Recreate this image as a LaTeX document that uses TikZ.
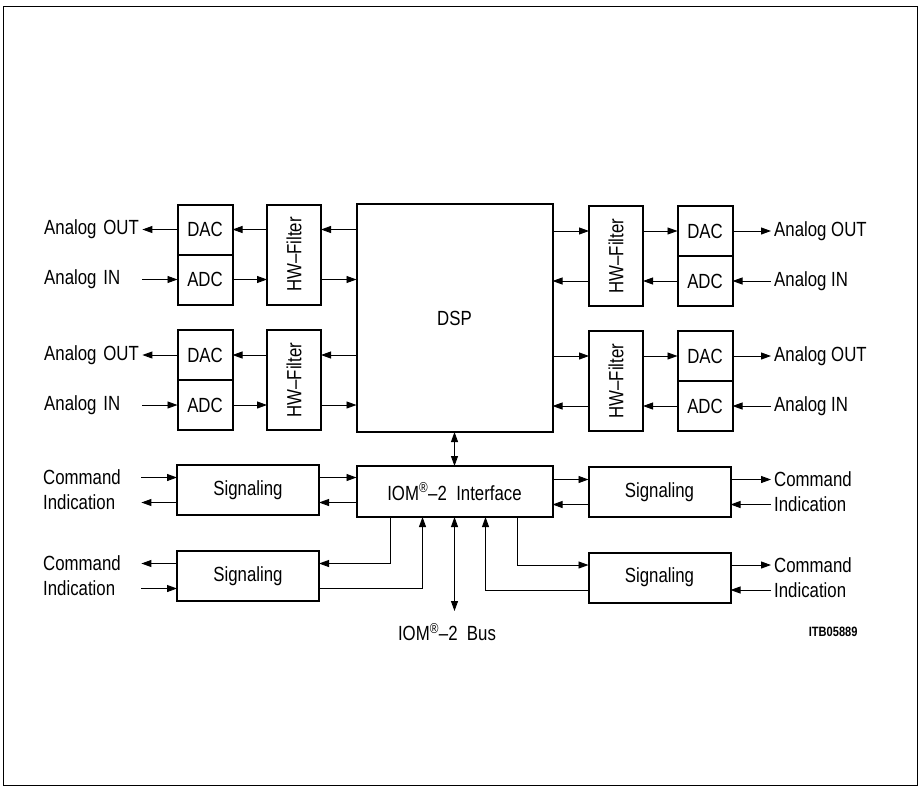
\documentclass[tikz,border=0pt]{standalone}
\usepackage{fontspec}
\usepackage{graphicx}
\setmainfont{Liberation Sans}[FakeStretch=0.82]
\usetikzlibrary{arrows.meta,positioning}

\begin{document}
\begin{tikzpicture}[
  x=1pt, y=-1pt,
  font=\fontsize{20.5}{23}\selectfont,
  blk/.style={rectangle, draw, line width=2pt, inner sep=0pt, outer sep=0pt},
  conv/.style={blk, minimum width=55pt, minimum height=50pt},
  filt/.style={blk, minimum width=54pt, minimum height=100pt},
  sig/.style={blk, minimum width=142pt, minimum height=50pt},
  arr/.style={-{Triangle[length=10pt,width=7pt]}, line width=0.9pt},
  darr/.style={{Triangle[length=10pt,width=7pt]}-{Triangle[length=10pt,width=7pt]}, line width=0.9pt},
  lbll/.style={text width=96pt, align=left, inner sep=2pt, anchor=west},
  lblr/.style={align=left, inner sep=3pt, anchor=west}
]
\useasboundingbox (0,0) rectangle (920,788);
\draw[line width=1pt] (3,6) rectangle (917,785);

%% Core blocks
\node[blk, minimum width=196pt, minimum height=228pt] (dsp) at (454.5,318) {DSP};
\node[blk, minimum width=196pt, minimum height=51pt] (iom) at (454.5,491.5)
  {IOM\textsuperscript{\textregistered}--2 \ Interface};

%% Left converters and filters
\node[conv] (dacL1) at (205,229.5) {DAC};
\node[conv, below=0pt of dacL1] (adcL1) {ADC};
\node[conv] (dacL2) at (205,355) {DAC};
\node[conv, below=0pt of dacL2] (adcL2) {ADC};
\node[filt] (filL1) at (294,254.5) {\rotatebox{90}{HW--Filter}};
\node[filt] (filL2) at (294,380) {\rotatebox{90}{HW--Filter}};

%% Right converters and filters
\node[conv] (dacR1) at (705,231) {DAC};
\node[conv, below=0pt of dacR1] (adcR1) {ADC};
\node[conv] (dacR2) at (705,356) {DAC};
\node[conv, below=0pt of dacR2] (adcR2) {ADC};
\node[filt] (filR1) at (616,256) {\rotatebox{90}{HW--Filter}};
\node[filt] (filR2) at (616,381) {\rotatebox{90}{HW--Filter}};

%% Signaling blocks
\node[sig] (sigL1) at (248,490) {Signaling};
\node[sig] (sigL2) at (248,576) {Signaling};
\node[sig] (sigR1) at (659.5,492) {Signaling};
\node[sig] (sigR2) at (659.5,577.5) {Signaling};

%% Analog labels
\node[lbll] (outL1) at (42,229.5) {Analog OUT};
\node[lbll] (inL1)  at (42,279.5) {Analog IN};
\node[lbll] (outL2) at (42,355)   {Analog OUT};
\node[lbll] (inL2)  at (42,405)   {Analog IN};
\node[lblr] (outR1) at (771,231)  {Analog OUT};
\node[lblr] (inR1)  at (771,281)  {Analog IN};
\node[lblr] (outR2) at (771,356)  {Analog OUT};
\node[lblr] (inR2)  at (771,406)  {Analog IN};

%% Command / Indication labels
\node[lbll] (cmdL1) at (41,477.5) {Command};
\node[lbll] (indL1) at (41,502.5) {Indication};
\node[lbll] (cmdL2) at (41,563.5) {Command};
\node[lbll] (indL2) at (41,588.5) {Indication};
\node[lblr] (cmdR1) at (771,479.5) {Command};
\node[lblr] (indR1) at (771,504.5) {Indication};
\node[lblr] (cmdR2) at (771,565)   {Command};
\node[lblr] (indR2) at (771,590)   {Indication};

%% Left analog paths
\draw[arr] (dsp.west |- dacL1) -- (filL1.east |- dacL1);
\draw[arr] (filL1.west |- dacL1) -- (dacL1);
\draw[arr] (dacL1) -- (outL1);
\draw[arr] (inL1) -- (adcL1);
\draw[arr] (adcL1) -- (filL1.west |- adcL1);
\draw[arr] (filL1.east |- adcL1) -- (dsp.west |- adcL1);
\draw[arr] (dsp.west |- dacL2) -- (filL2.east |- dacL2);
\draw[arr] (filL2.west |- dacL2) -- (dacL2);
\draw[arr] (dacL2) -- (outL2);
\draw[arr] (inL2) -- (adcL2);
\draw[arr] (adcL2) -- (filL2.west |- adcL2);
\draw[arr] (filL2.east |- adcL2) -- (dsp.west |- adcL2);

%% Right analog paths
\draw[arr] (dsp.east |- dacR1) -- (filR1.west |- dacR1);
\draw[arr] (filR1.east |- dacR1) -- (dacR1);
\draw[arr] (dacR1) -- (outR1);
\draw[arr] (inR1) -- (adcR1);
\draw[arr] (adcR1) -- (filR1.east |- adcR1);
\draw[arr] (filR1.west |- adcR1) -- (dsp.east |- adcR1);
\draw[arr] (dsp.east |- dacR2) -- (filR2.west |- dacR2);
\draw[arr] (filR2.east |- dacR2) -- (dacR2);
\draw[arr] (dacR2) -- (outR2);
\draw[arr] (inR2) -- (adcR2);
\draw[arr] (adcR2) -- (filR2.east |- adcR2);
\draw[arr] (filR2.west |- adcR2) -- (dsp.east |- adcR2);

%% Signaling paths, left
\draw[arr] (cmdL1) -- (sigL1.west |- cmdL1);
\draw[arr] (sigL1.west |- indL1) -- (indL1);
\draw[arr] (sigL1.east |- cmdL1) -- (iom.west |- cmdL1);
\draw[arr] (iom.west |- indL1) -- (sigL1.east |- indL1);
\draw[arr] (sigL2.west |- cmdL2) -- (cmdL2);
\draw[arr] (indL2) -- (sigL2.west |- indL2);
\draw[arr] ([xshift=-64pt]iom.south) |- (sigL2.east |- cmdL2);
\draw[arr] (sigL2.east |- indL2) -| ([xshift=-32pt]iom.south);

%% Signaling paths, right
\draw[arr] (iom.east |- cmdR1) -- (sigR1.west |- cmdR1);
\draw[arr] (sigR1.west |- indR1) -- (iom.east |- indR1);
\draw[arr] (sigR1.east |- cmdR1) -- (cmdR1);
\draw[arr] (indR1) -- (sigR1.east |- indR1);
\draw[arr] ([xshift=63pt]iom.south) |- (sigR2.west |- cmdR2);
\draw[arr] (sigR2.west |- indR2) -| ([xshift=31pt]iom.south);
\draw[arr] (sigR2.east |- cmdR2) -- (cmdR2);
\draw[arr] (indR2) -- (sigR2.east |- indR2);

%% Bus
\draw[darr] (dsp.south) -- (iom.north);
\coordinate (busend) at (454.5,611);
\draw[darr] (iom.south) -- (busend);
\node (bus) at (447,632) {IOM\textsuperscript{\textregistered}--2 \ Bus};

\node[font=\fontsize{13.5}{15}\selectfont\bfseries, anchor=east] (code) at (861,632) {ITB05889};

\end{tikzpicture}
\end{document}
